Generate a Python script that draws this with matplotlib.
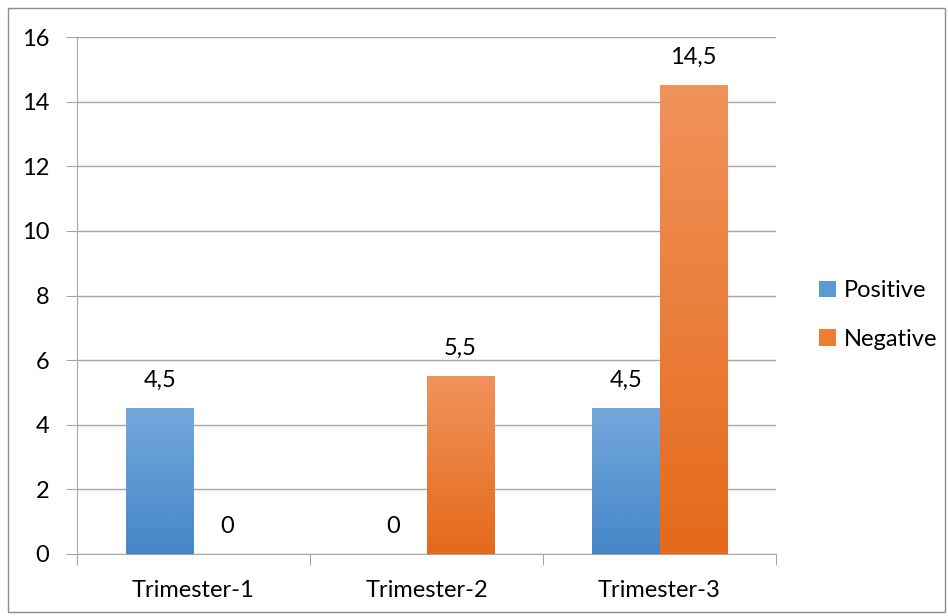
import matplotlib.pyplot as plt
import numpy as np
from matplotlib.colors import LinearSegmentedColormap
from matplotlib.patches import Rectangle, Patch

plt.rcParams['font.family'] = ['Lato', 'DejaVu Sans']

categories = ["Trimester-1", "Trimester-2", "Trimester-3"]
positive = [4.5, 0, 4.5]
negative = [0, 5.5, 14.5]
series_names = ["Positive", "Negative"]

# gradient colours (top, bottom)
blue_grad = ("#74a8dc", "#4586c8")
orange_grad = ("#f1925c", "#e46a1a")

fs = 17

fig = plt.figure(figsize=(9.48, 6.16), dpi=100)
ax = fig.add_axes([77 / 948, 1 - 554 / 616, (776 - 77) / 948, (554 - 37) / 616])

# border around the whole chart
fig.patches.append(Rectangle((8 / 948, 4 / 616), 937 / 948, 604 / 616, transform=fig.transFigure,
                             fill=False, edgecolor="#8c8c8c", linewidth=1))

x = np.arange(len(categories))
w = 0.29
gray = "#a6a6a6"


def grad_bars(xpos, vals, colors):
    bars = ax.bar(xpos, vals, w, color="none", edgecolor="none")
    cmap = LinearSegmentedColormap.from_list("g", [colors[1], colors[0]])
    grad = np.linspace(0, 1, 256).reshape(-1, 1)
    for b in bars:
        if b.get_height() <= 0:
            continue
        x0, y0 = b.get_x(), b.get_y()
        ax.imshow(grad, cmap=cmap, origin="lower", aspect="auto", zorder=3,
                  extent=(x0, x0 + b.get_width(), y0, y0 + b.get_height()))
    return bars


b1 = grad_bars(x - w / 2, positive, blue_grad)
b2 = grad_bars(x + w / 2, negative, orange_grad)

for bars in (b1, b2):
    for b in bars:
        v = b.get_height()
        txt = f"{v:g}".replace(".", ",")
        ax.annotate(txt, (b.get_x() + b.get_width() / 2, v), xytext=(0, 20),
                    textcoords="offset points", ha="center", va="center", fontsize=fs, color="black")

ax.set_xlim(-0.5, 2.5)
ax.set_ylim(0, 16)
ax.set_yticks(range(0, 17, 2))
ax.set_yticklabels([str(t) for t in range(0, 17, 2)], fontsize=fs)
ax.yaxis.grid(True, color=gray, linewidth=1)
ax.set_axisbelow(True)
ax.tick_params(axis="y", length=8, color=gray, pad=12)

# category boundary ticks
ax.set_xticks([-0.5, 0.5, 1.5, 2.5])
ax.set_xticklabels([])
ax.tick_params(axis="x", length=8, color=gray)
ax.set_xticks(x, minor=True)
ax.set_xticklabels(categories, minor=True, fontsize=fs)
ax.tick_params(axis="x", which="minor", length=0, pad=19)

for s in ("top", "right"):
    ax.spines[s].set_visible(False)
for s in ("left", "bottom"):
    ax.spines[s].set_color(gray)

handles = [Patch(facecolor="#5b9bd5"), Patch(facecolor="#ed7d31")]
fig.legend(handles, series_names, loc="center left", bbox_to_anchor=(798 / 948, 1 - 315 / 616),
           frameon=False, fontsize=fs, handlelength=0.7, handleheight=0.7, handletextpad=0.35,
           labelspacing=1.15)

fig.savefig("out.png", dpi=100)
